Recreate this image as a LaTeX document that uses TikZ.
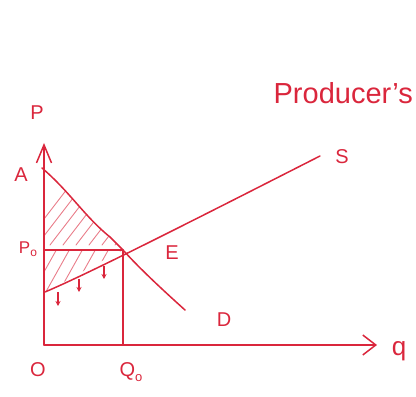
\documentclass[tikz,border=0pt]{standalone}
\usepackage{fontspec}
\setmainfont{Liberation Sans}
\usetikzlibrary{arrows.meta}
\definecolor{inkred}{RGB}{218,38,60}
\begin{document}
\begin{tikzpicture}[x=1pt,y=1pt,
  ink/.style={draw=inkred, line width=1.5pt, line cap=round, line join=round},
  thin ink/.style={draw=inkred, line width=1.1pt, line cap=round},
  hatchline/.style={draw=inkred!60, line width=0.9pt, line cap=round},
  lab/.style={text=inkred, font=\fontsize{20}{20}\selectfont, inner sep=0pt},
  small arrow/.style={draw=inkred, line width=1.2pt, -{Stealth[length=5pt,width=5pt]}}]
\useasboundingbox (0,0) rectangle (416,397);
% key points
\coordinate (O) at (44,52);
\coordinate (Ytop) at (44,254);
\coordinate (Xend) at (377,52);
\coordinate (E) at (123,147);
\coordinate (P0pt) at (44,147);
\coordinate (Q0pt) at (123,52);
\coordinate (Dstart) at (42,229);
\coordinate (Dend) at (185,87);
\coordinate (Sstart) at (45,105);
\coordinate (Send) at (320,241);
% hatching, consumer surplus
\begin{scope}
  \clip (44,229) .. controls (70,205) and (85,180) .. (110,160) -- (E) -- (P0pt) -- cycle;
  \foreach \i in {0,13,...,160} {
    \draw[hatchline] (24+\i,152) -- ++(50,65);
  }
\end{scope}
% hatching, producer surplus
\begin{scope}
  \clip (P0pt) -- (E) .. controls (95,133) and (70,118) .. (Sstart) -- (44,105) -- cycle;
  \foreach \i in {0,13,...,120} {
    \draw[hatchline] (30+\i,100) -- ++(28,50);
  }
\end{scope}
% axes
\draw[ink, -{Straight Barb[length=18pt,width=15pt,line width=1.5pt]}] (O) -- (Ytop);
\draw[ink, -{Straight Barb[length=13pt,width=20pt,line width=1.5pt]}] (O) -- (Xend);
% demand
\draw[ink] (Dstart) .. controls (70,205) and (85,180) .. (110,160) .. controls (116,154) and (118,152) .. (E) .. controls (140,128) and (165,105) .. (Dend);
% supply
\draw[ink] (Sstart) .. controls (90,124) and (200,180) .. (Send);
% equilibrium guides
\draw[thin ink] (P0pt) -- (E);
\draw[thin ink] (E) -- (Q0pt);
% small downward arrows
\coordinate (a1s) at (58,105); \coordinate (a1e) at (58,91);
\coordinate (a2s) at (79,118); \coordinate (a2e) at (79,105);
\coordinate (a3s) at (104,131); \coordinate (a3e) at (104,118);
\draw[small arrow] (a1s) -- (a1e);
\draw[small arrow] (a2s) -- (a2e);
\draw[small arrow] (a3s) -- (a3e);
% labels
\node[lab] (labP) at (37,284) {P};
\node[lab] (labA) at (21,222) {A};
\node[lab, font=\fontsize{17}{17}\selectfont] (labP0) at (28,148) {P\raisebox{-0.3ex}{\fontsize{12}{12}\selectfont o}};
\node[lab] (labE) at (172,144) {E};
\node[lab] (labS) at (342,240) {S};
\node[lab] (labD) at (224,77) {D};
\node[lab] (labO) at (38,27) {O};
\node[lab] (labQ0) at (131,25) {Q\raisebox{-0.4ex}{\fontsize{13}{13}\selectfont o}};
\node[lab, font=\fontsize{26}{26}\selectfont] (labq) at (399,46) {q};
\node[lab, font=\fontsize{29}{29}\selectfont, anchor=east] (title) at (413,304) {Producer's};
\end{tikzpicture}
\end{document}
